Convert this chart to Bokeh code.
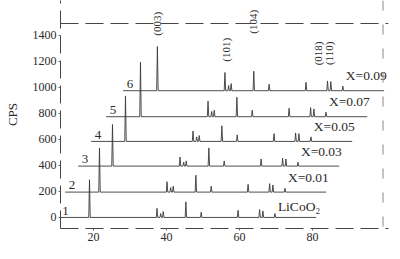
from bokeh.plotting import figure
from bokeh.models import Range1d, FixedTicker, Span, Label
from bokeh.core.properties import value
from bokeh.embed import file_html
from bokeh.resources import INLINE
import math

# ---- data ----
series_names = ["LiCoO₂", "X=0.01", "X=0.03", "X=0.05", "X=0.07", "X=0.09"]
series_numbers = ["1", "2", "3", "4", "5", "6"]
x_offsets = [0.0, 2.74, 6.3, 9.86, 13.97, 18.6]      # horizontal stacking shift (deg)
y_offsets = [0, 195, 395, 585, 775, 975]              # vertical stacking shift (CPS)
two_theta_start = 9.5
two_theta_end = 81.0
peak_positions = [18.9, 37.4, 38.4, 39.1, 45.3, 49.5, 59.6, 65.5, 66.4, 69.7]
peak_heights = [
    [290, 70, 30, 45, 120, 40, 55, 60, 50, 30],
    [340, 80, 35, 45, 130, 45, 60, 65, 55, 30],
    [320, 70, 30, 40, 140, 40, 55, 60, 55, 30],
    [350, 80, 35, 45, 120, 50, 60, 65, 60, 35],
    [420, 120, 40, 50, 150, 50, 65, 70, 60, 35],
    [340, 140, 40, 55, 150, 50, 65, 75, 70, 35],
]
hkl_labels = ["(003)", "(101)", "(104)", "(018)", "(110)"]
hkl_x = [37.5, 56.2, 63.6, 81.6, 84.4]
hkl_y = [1490, 1290, 1505, 1262, 1262]
y_ticks = [0, 200, 400, 600, 800, 1000, 1200, 1400]
x_ticks = [20, 40, 60, 80]

FONT = "Liberation Serif"
INK = "#2a2a2a"

p = figure(width=400, height=259, x_range=Range1d(10.96, 100.8), y_range=Range1d(-85, 1669),
           output_backend="svg", toolbar_location=None,
           min_border_left=60, min_border_right=12, min_border_top=0, min_border_bottom=31)
p.grid.visible = False
p.outline_line_color = None

# traces
for i in range(6):
    xs = [two_theta_start]
    ys = [0]
    for pos, h in zip(peak_positions, peak_heights[i]):
        xs += [pos - 0.2, pos, pos + 0.2]
        ys += [0, h, 0]
    xs.append(two_theta_end)
    ys.append(0)
    xs = [x + x_offsets[i] for x in xs]
    ys = [y + y_offsets[i] for y in ys]
    p.line(xs, ys, line_color="#3a3a3a", line_width=0.9)

# trace numbers
num_x = [12.3] + [11.4] * 5
p.text(x=[num_x[i] + x_offsets[i] for i in range(6)], y=[y_offsets[i] + 22 for i in range(6)],
       text=series_numbers, text_font=value(FONT), text_font_size="13px",
       text_align="center", text_baseline="bottom", text_color=INK)

# series labels
p.text(x=[70.5 + x_offsets[i] for i in range(6)],
       y=[y_offsets[i] + (85 if i == 0 else 115) for i in range(6)],
       text=series_names, text_font=value(FONT), text_font_size="13.5px",
       text_align="left", text_baseline="middle", text_color=INK)

# hkl labels (rotated)
p.text(x=hkl_x, y=hkl_y, text=hkl_labels, angle=math.pi / 2, text_font=value(FONT),
       text_font_size="11px", text_align="center", text_baseline="middle", text_color=INK)

# frame lines (dashed, like the scan)
p.add_layout(Span(location=1492, dimension="width", line_color="#444444", line_dash="18 7", line_width=1))
p.add_layout(Span(location=99.3, dimension="height", line_color="#888888", line_dash="10 14", line_width=1))

# axes
p.xaxis.ticker = FixedTicker(ticks=x_ticks)
p.yaxis.ticker = FixedTicker(ticks=y_ticks)
for ax in (p.xaxis[0], p.yaxis[0]):
    ax.axis_line_color = "#444444"
    ax.axis_line_dash = "18 7"
    ax.major_tick_line_color = "#666666"
    ax.major_tick_out = 2
    ax.major_tick_in = 0
    ax.minor_tick_line_color = None
    ax.major_label_text_font = FONT
    ax.major_label_text_font_size = "12px"
    ax.major_label_text_color = INK
    ax.major_label_standoff = 2
p.yaxis.axis_label = "CPS"
p.yaxis.axis_label_text_font = FONT
p.yaxis.axis_label_text_font_size = "13px"
p.yaxis.axis_label_text_font_style = "normal"
p.yaxis.axis_label_text_color = INK
p.yaxis.axis_label_standoff = 10

p.add_layout(Label(x=140, y=-18, x_units="screen", y_units="screen", text="2θ/(°)",
                   text_font=FONT, text_font_size="12px", text_align="center",
                   text_baseline="middle", text_color=INK))

open("out.html", "w").write(file_html(p, INLINE))
